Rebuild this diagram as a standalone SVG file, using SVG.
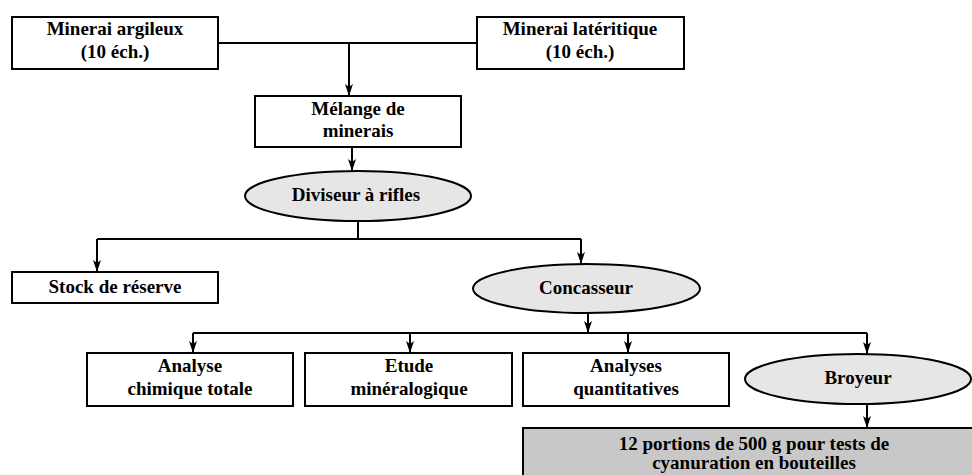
<svg xmlns="http://www.w3.org/2000/svg" width="972" height="475" viewBox="0 0 972 475">
<defs>
<marker id="ah" viewBox="0 0 12 8" refX="12" refY="4" markerWidth="12" markerHeight="8" markerUnits="userSpaceOnUse" orient="auto">
<path d="M0,0 L12,4 L0,8 L3,4 z" fill="#000"/>
</marker>
<style>
.box{fill:#fff;stroke:#000;stroke-width:2}
.ell{fill:#e6e6e6;stroke:#000;stroke-width:2}
.grey{fill:#c8c8c8;stroke:#000;stroke-width:2}
.t{font-family:"Liberation Serif","Times New Roman",serif;font-weight:bold;font-size:19px;text-anchor:middle;fill:#000}
.c{fill:none;stroke:#000;stroke-width:2}
.a{marker-end:url(#ah)}
</style>
</defs>
<rect width="972" height="475" fill="#fff"/>
<g id="connectors">
<path class="c" d="M218,43 H477"/>
<path class="c a" d="M349,43 V96"/>
<path class="c a" d="M352,147 V171"/>
<path class="c" d="M358,222 V239 M97,239 H581"/>
<path class="c a" d="M97,239 V272"/>
<path class="c a" d="M581,239 V264"/>
<path class="c a" d="M588,313 V333"/>
<path class="c" d="M193,333 H867"/>
<path class="c a" d="M193,333 V353"/>
<path class="c a" d="M410,333 V353"/>
<path class="c a" d="M628,333 V353"/>
<path class="c a" d="M867,333 V354"/>
<path class="c a" d="M867,404 V428"/>
</g>
<g id="argileux">
<rect class="box" x="12" y="17" width="206" height="52"/>
<text class="t" x="115" y="35">Minerai argileux</text>
<text class="t" x="115" y="58">(10 éch.)</text>
</g>
<g id="lateritique">
<rect class="box" x="477" y="17" width="207" height="52"/>
<text class="t" x="580" y="35">Minerai latéritique</text>
<text class="t" x="580" y="58">(10 éch.)</text>
</g>
<g id="melange">
<rect class="box" x="255" y="96" width="206" height="51"/>
<text class="t" x="358" y="115">Mélange de</text>
<text class="t" x="358" y="137">minerais</text>
</g>
<g id="diviseur">
<ellipse class="ell" cx="358" cy="196" rx="113" ry="25"/>
<text class="t" x="356" y="201">Diviseur à rifles</text>
</g>
<g id="stock">
<rect class="box" x="12" y="272" width="206" height="31"/>
<text class="t" x="115" y="293">Stock de réserve</text>
</g>
<g id="concasseur">
<ellipse class="ell" cx="586.5" cy="288.5" rx="113.5" ry="24.5"/>
<text class="t" x="586" y="294">Concasseur</text>
</g>
<g id="analyse-chimique">
<rect class="box" x="87" y="353" width="206" height="53"/>
<text class="t" x="190" y="372">Analyse</text>
<text class="t" x="190" y="395">chimique totale</text>
</g>
<g id="etude">
<rect class="box" x="305" y="353" width="207" height="53"/>
<text class="t" x="409" y="372">Etude</text>
<text class="t" x="409" y="395">minéralogique</text>
</g>
<g id="analyses-quantitatives">
<rect class="box" x="523" y="353" width="206" height="53"/>
<text class="t" x="626" y="372">Analyses</text>
<text class="t" x="626" y="395">quantitatives</text>
</g>
<g id="broyeur">
<ellipse class="ell" cx="858" cy="379" rx="113" ry="25"/>
<text class="t" x="858" y="384">Broyeur</text>
</g>
<g id="portions">
<rect class="grey" x="523" y="428" width="470" height="60"/>
<text class="t" x="754" y="450">12 portions de 500 g pour tests de</text>
<text class="t" x="754" y="469">cyanuration en bouteilles</text>
</g>
</svg>
